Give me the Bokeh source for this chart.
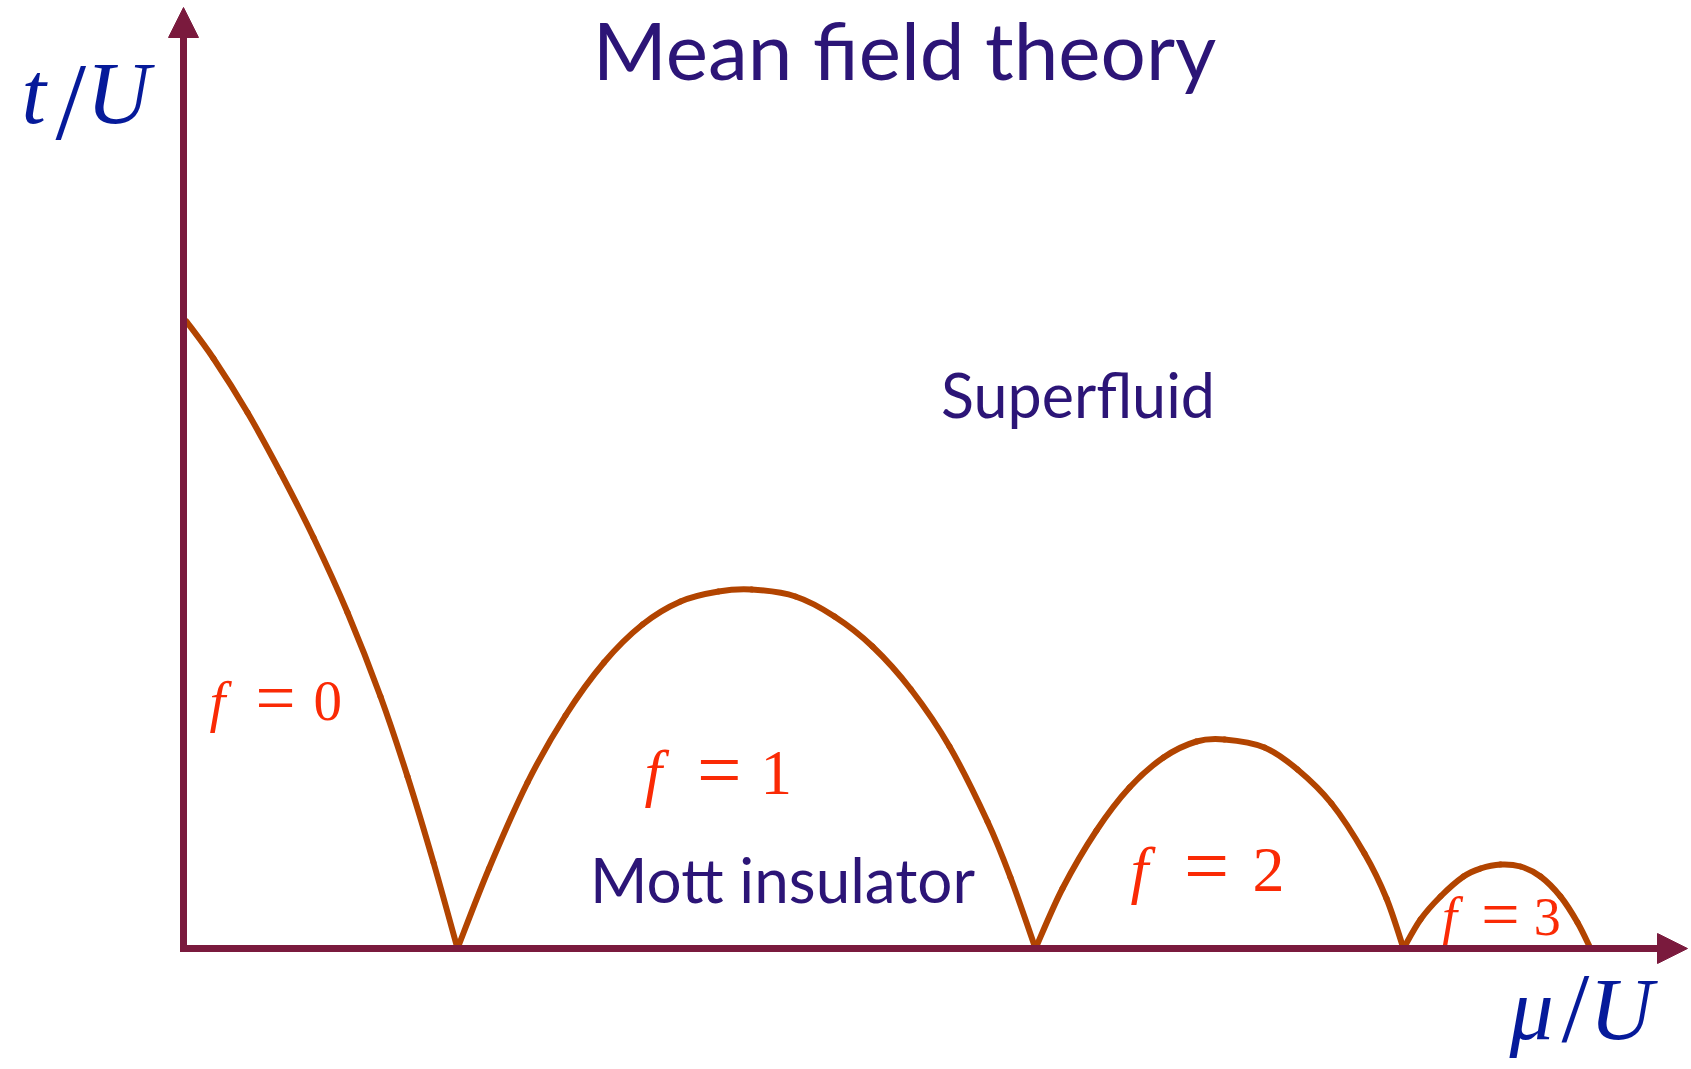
from bokeh.plotting import figure
from bokeh.models import Range1d, Arrow, NormalHead
from bokeh.embed import file_html
from bokeh.resources import INLINE
from bokeh.core.properties import value

# Phase boundary of the Bose-Hubbard model (mean field), in units of the axes
lobe0_mu = [0.03, 0.30, 0.64, 0.97, 1.30, 1.64, 1.97, 2.24, 2.50, 2.74]
lobe0_t = [6.27, 5.90, 5.36, 4.76, 4.11, 3.36, 2.52, 1.72, 0.86, 0.00]

lobe1_mu = [2.74, 3.055, 3.44, 3.82, 4.205, 4.59, 4.97, 5.35, 5.68, 6.12,
            6.51, 6.89, 7.275, 7.66, 8.04, 8.27, 8.52]
lobe1_t = [0.00, 0.80, 1.66, 2.33, 2.86, 3.24, 3.47, 3.57, 3.59, 3.52,
           3.32, 3.02, 2.59, 2.02, 1.27, 0.71, 0.00]

lobe2_mu = [8.52, 8.79, 9.13, 9.46, 9.80, 10.13, 10.41, 10.81, 11.14, 11.48,
            11.81, 12.03, 12.20]
lobe2_t = [0.00, 0.60, 1.18, 1.61, 1.91, 2.07, 2.09, 2.01, 1.79, 1.45,
           0.95, 0.50, 0.00]

lobe3_mu = [12.20, 12.37, 12.57, 12.80, 12.97, 13.17, 13.37, 13.57, 13.77, 13.94, 14.07]
lobe3_t = [0.00, 0.29, 0.52, 0.72, 0.80, 0.84, 0.82, 0.72, 0.52, 0.26, 0.00]

# filling of each Mott lobe
filling_values = ["0", "1", "2", "3"]

MU_MAX = 15.04
T_MAX = 9.41

AXIS_COLOR = "#7a1a3d"
CURVE_COLOR = "#b24400"
LABEL_RED = "#fa2a05"
MATH_BLUE = "#061a9a"
TEXT_INDIGO = "#2c1577"

PX_PER_UNIT = 100.0   # same scale on both axes
BASELINE_SHIFT = 0.39  # em, lifts the svg text onto its alphabetic baseline

p = figure(width=1691, height=1069, output_backend="svg", toolbar_location=None,
           x_range=Range1d(-1.83, 15.08), y_range=Range1d(-1.21, 9.48),
           x_axis_type=None, y_axis_type=None, min_border=0)
p.grid.visible = False
p.outline_line_color = None
p.background_fill_color = "white"
p.border_fill_color = "white"

# axes drawn as arrows
p.add_layout(Arrow(end=NormalHead(size=30, fill_color=AXIS_COLOR, line_color=AXIS_COLOR, line_width=1),
                   x_start=0, y_start=-0.035, x_end=0, y_end=T_MAX,
                   line_color=AXIS_COLOR, line_width=7))
p.add_layout(Arrow(end=NormalHead(size=30, fill_color=AXIS_COLOR, line_color=AXIS_COLOR, line_width=1),
                   x_start=-0.035, y_start=0, x_end=MU_MAX, y_end=0,
                   line_color=AXIS_COLOR, line_width=7))


def smooth_through(xs, ys):
    """Cubic Bezier pieces (Catmull-Rom tangents) passing through every point."""
    n = len(xs)
    seg = {k: [] for k in ("x0", "y0", "x1", "y1", "cx0", "cy0", "cx1", "cy1")}
    for i in range(n - 1):
        a = i - 1 if i > 0 else i
        b = i + 2 if i + 2 < n else i + 1
        seg["x0"].append(xs[i]); seg["y0"].append(ys[i])
        seg["x1"].append(xs[i + 1]); seg["y1"].append(ys[i + 1])
        seg["cx0"].append(xs[i] + (xs[i + 1] - xs[a]) / 6.0)
        seg["cy0"].append(ys[i] + (ys[i + 1] - ys[a]) / 6.0)
        seg["cx1"].append(xs[i + 1] - (xs[b] - xs[i]) / 6.0)
        seg["cy1"].append(ys[i + 1] - (ys[b] - ys[i]) / 6.0)
    return seg


for mus, ts in ((lobe0_mu, lobe0_t), (lobe1_mu, lobe1_t),
                (lobe2_mu, lobe2_t), (lobe3_mu, lobe3_t)):
    s = smooth_through(mus, ts)
    p.bezier(line_color=CURVE_COLOR, line_width=6, line_cap="round", **s)


def label(x, y, txt, font, size, color, style="normal", align="left"):
    p.text(x=[x], y=[y + BASELINE_SHIFT * size / PX_PER_UNIT], text=[txt],
           text_font=value(font), text_font_style=style,
           text_font_size=f"{size}px", text_color=color,
           text_align=align, text_baseline="alphabetic")


# title and region names
label(7.21, 8.68, "Mean field theory", "Lato", 80, TEXT_INDIGO, align="center")
label(8.945, 5.30, "Superfluid", "Lato", 61, TEXT_INDIGO, align="center")
label(5.99, 0.45, "Mott insulator", "Lato", 62, TEXT_INDIGO, align="center")

# axis labels
label(-1.62, 8.21, "t", "Liberation Serif", 88, MATH_BLUE, style="italic")
label(-1.28, 8.035, "/", "Liberation Serif", 110, MATH_BLUE)
label(-0.97, 8.21, "U", "Liberation Serif", 88, MATH_BLUE, style="italic")

label(13.26, -0.95, "μ", "Liberation Serif", 88, MATH_BLUE, style="italic")
label(13.78, -0.98, "/", "Liberation Serif", 100, MATH_BLUE)
label(14.06, -0.95, "U", "Liberation Serif", 88, MATH_BLUE, style="italic")

# f = n labels: origin of f, of "=", of the digit, baseline, size
f_layout = [
    (0.26, 0.72, 1.30, 2.25, 57),
    (4.61, 5.135, 5.77, 1.51, 63),
    (9.47, 10.005, 10.69, 0.54, 64),
    (12.585, 12.977, 13.503, 0.10, 54),
]
for n, (fx, ex, dx, by, fs) in zip(filling_values, f_layout):
    eq_fs = round(fs * 1.25)
    label(fx, by, "f", "Liberation Serif", fs, LABEL_RED, style="italic")
    label(ex, by - 0.045 * fs / PX_PER_UNIT, "=", "Liberation Serif", eq_fs, LABEL_RED)
    label(dx, by, n, "Liberation Serif", fs, LABEL_RED)

open("out.html", "w").write(file_html(p, INLINE))
